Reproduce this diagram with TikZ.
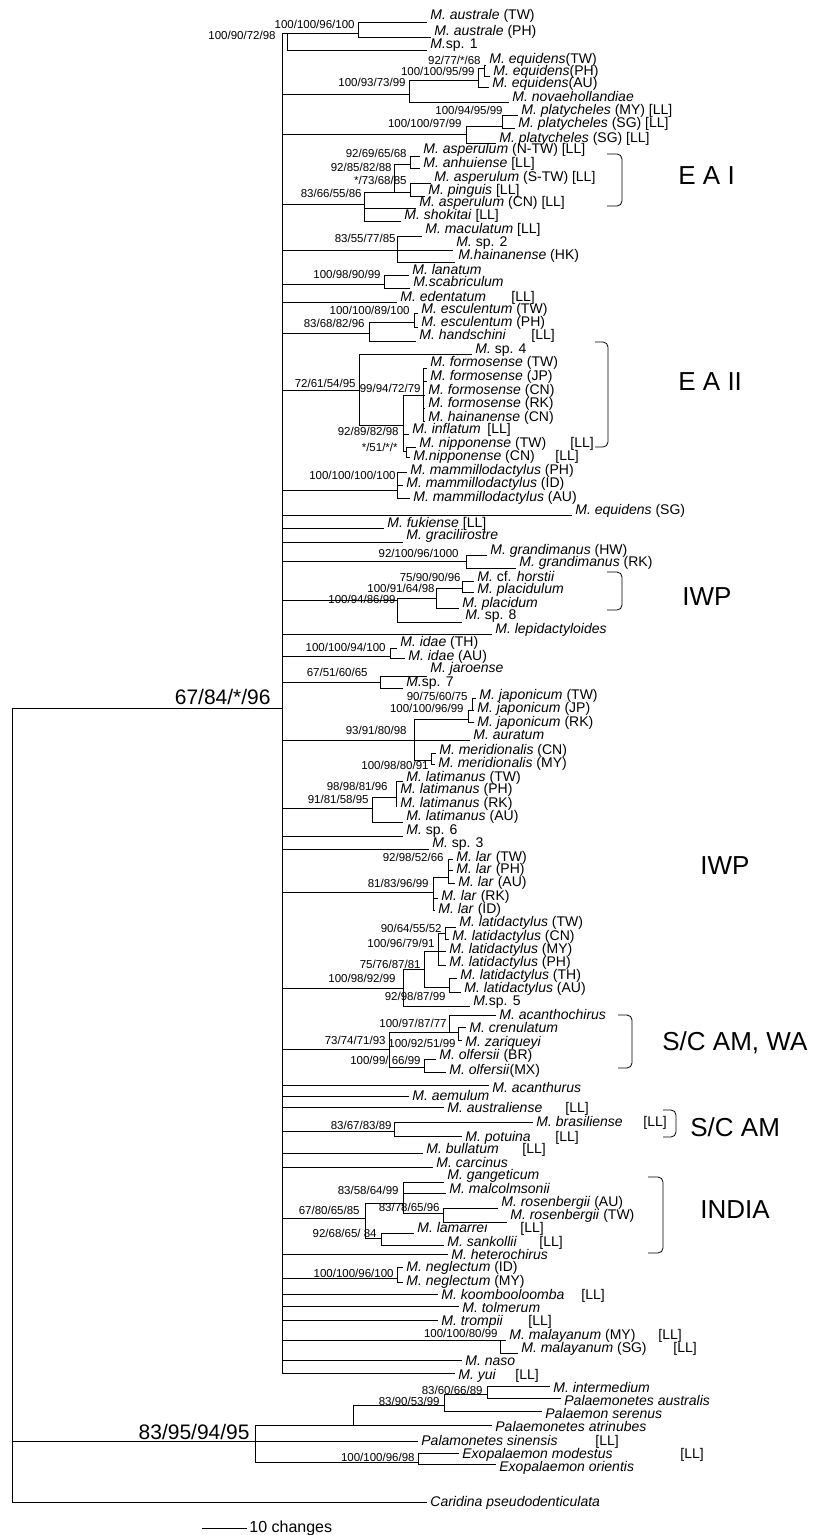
\documentclass[tikz,border=0pt]{standalone}
\usepackage{fontspec}
\setmainfont{Liberation Sans}
\newcommand{\leaffont}{\fontsize{14}{15}\selectfont}
\newcommand{\bsfont}{\fontsize{11.5}{12}\selectfont}
\newcommand{\rootfont}{\fontsize{21}{24}\selectfont}
\newcommand{\grpfont}{\fontsize{26}{28}\selectfont}
\newcommand{\barfont}{\fontsize{16}{18}\selectfont}
\newcommand{\Mi}[1]{\textit{M. #1}}
\newcommand{\wLL}[2]{\makebox[#1pt][l]{#2}[LL]}
\newcommand{\leaf}[5]{\coordinate (#1) at (#2,#3);
  \node[taxon] (#1t) at (#2,#4+4.8) {#5};}
\newcommand{\inode}[3]{\coordinate (#1) at (#2,#3);}
\newcommand{\bsv}[4]{\node[bsl] (#1) at (#2,#3) {#4};}
\tikzset{
  taxon/.style={anchor=base west,inner xsep=3pt,inner ysep=0pt,font=\leaffont},
  bsl/.style={anchor=east,inner sep=0pt,font=\bsfont},
  grp/.style={anchor=west,inner sep=0pt,font=\grpfont},
  brk/.style={rounded corners=5pt}
}
\begin{document}
\begin{tikzpicture}[x=1pt,y=-1pt,line width=0.8pt]
\useasboundingbox (0,0) rectangle (824,1535);
\leaf{ausTW}{427}{22}{15}{\Mi{australe} (TW)}
\leaf{ausPH}{431}{37}{31}{\Mi{australe} (PH)}
\leaf{spA}{427}{50}{44}{\textit{M.}sp. 1}
\leaf{eqTW}{486}{65}{59}{\Mi{equidens}(TW)}
\leaf{eqPH}{490}{76}{71}{\Mi{equidens}(PH)}
\leaf{eqAU}{489}{87}{83}{\Mi{equidens}(AU)}
\leaf{novae}{509}{102}{97}{\Mi{novaehollandiae}}
\leaf{plMY}{518}{115}{110}{\Mi{platycheles} (MY) [LL]}
\leaf{plSG}{515}{128}{123}{\Mi{platycheles} (SG) [LL]}
\leaf{plSGb}{496}{143}{138}{\Mi{platycheles} (SG) [LL]}
\leaf{asNTW}{420}{156}{149}{\Mi{asperulum} (N-TW) [LL]}
\leaf{anhui}{420}{168}{163}{\Mi{anhuiense} [LL]}
\leaf{asSTW}{431}{183}{177}{\Mi{asperulum} (S-TW) [LL]}
\leaf{pingu}{425}{196}{190}{\Mi{pinguis} [LL]}
\leaf{asCN}{416}{208}{202}{\Mi{asperulum} (CN) [LL]}
\leaf{shoki}{401}{221}{215}{\Mi{shokitai} [LL]}
\leaf{macul}{422}{236}{229}{\Mi{maculatum} [LL]}
\leaf{spB}{453}{250}{242}{\textit{M.} sp. 2}
\leaf{haiHK}{455}{262}{255}{\textit{M.hainanense} (HK)}
\leaf{lanat}{409}{275}{270}{\Mi{lanatum}}
\leaf{scabr}{410}{288}{282}{\textit{M.scabriculum}}
\leaf{edent}{397}{302}{297}{\wLL{111}{\Mi{edentatum}}}
\leaf{escTW}{418}{313}{309}{\Mi{esculentum} (TW)}
\leaf{escPH}{418}{327}{322}{\Mi{esculentum} (PH)}
\leaf{hands}{416}{341}{335}{\wLL{112}{\Mi{handschini}}}
\leaf{spC}{472}{354}{349}{\textit{M.} sp. 4}
\leaf{foTW}{427}{368}{362}{\Mi{formosense} (TW)}
\leaf{foJP}{427}{381}{376}{\Mi{formosense} (JP)}
\leaf{foCN}{425}{395}{390}{\Mi{formosense} (CN)}
\leaf{foRK}{425}{408}{403}{\Mi{formosense} (RK)}
\leaf{haiCN}{425}{421}{417}{\Mi{hainanense} (CN)}
\leaf{infla}{409}{434}{429}{\wLL{75}{\Mi{inflatum}}}
\leaf{niTW}{416}{447}{443}{\wLL{151}{\Mi{nipponense} (TW)}}
\leaf{niCN}{410}{457}{456}{\wLL{142}{\textit{M.nipponense} (CN)}}
\leaf{maPH}{407}{472}{470}{\Mi{mammillodactylus} (PH)}
\leaf{maID}{403}{485}{483}{\Mi{mammillodactylus} (ID)}
\leaf{maAU}{410}{498}{497}{\Mi{mammillodactylus} (AU)}
\leaf{eqSG}{572}{515}{510}{\Mi{equidens} (SG)}
\leaf{fukie}{384}{528}{523}{\Mi{fukiense} [LL]}
\leaf{graci}{403}{542}{535}{\Mi{gracilirostre}}
\leaf{grHW}{487}{555}{550}{\Mi{grandimanus} (HW)}
\leaf{grRK}{516}{568}{562}{\Mi{grandimanus} (RK)}
\leaf{horst}{474}{581}{577}{\textit{M.} cf. \textit{horstii}}
\leaf{plcdl}{474}{592}{589}{\Mi{placidulum}}
\leaf{plcdm}{459}{608}{603}{\Mi{placidum}}
\leaf{spD}{462}{622}{615}{\textit{M.} sp. 8}
\leaf{lepid}{492}{634}{629}{\Mi{lepidactyloides}}
\leaf{idTH}{397}{648}{642}{\Mi{idae} (TH)}
\leaf{idAU}{405}{658}{656}{\Mi{idae} (AU)}
\leaf{jaroe}{427}{676}{668}{\Mi{jaroense}}
\leaf{spE}{403}{688}{682}{\textit{M.}sp. 7}
\leaf{jaTW}{476}{698}{695}{\Mi{japonicum} (TW)}
\leaf{jaJP}{474}{710}{708}{\Mi{japonicum} (JP)}
\leaf{jaRK}{474}{722}{722}{\Mi{japonicum} (RK)}
\leaf{aurat}{470}{740}{735}{\Mi{auratum}}
\leaf{meCN}{436}{753}{750}{\Mi{meridionalis} (CN)}
\leaf{meMY}{435}{764}{763}{\Mi{meridionalis} (MY)}
\leaf{ltTW}{403}{781}{777}{\Mi{latimanus} (TW)}
\leaf{ltPH}{397}{793}{789}{\Mi{latimanus} (PH)}
\leaf{ltRK}{397}{806}{803}{\Mi{latimanus} (RK)}
\leaf{ltAU}{403}{822}{816}{\Mi{latimanus} (AU)}
\leaf{spF}{403}{836}{830}{\textit{M.} sp. 6}
\leaf{spG}{429}{849}{843}{\textit{M.} sp. 3}
\leaf{laTW}{453}{859}{857}{\Mi{lar} (TW)}
\leaf{laPH}{453}{870}{869}{\Mi{lar} (PH)}
\leaf{laAU}{455}{883}{882}{\Mi{lar} (AU)}
\leaf{laRK}{438}{898}{896}{\Mi{lar} (RK)}
\leaf{laID}{435}{910}{909}{\Mi{lar} (ID)}
\leaf{ldTW}{456}{927}{922}{\Mi{latidactylus} (TW)}
\leaf{ldCN}{449}{939}{936}{\Mi{latidactylus} (CN)}
\leaf{ldMY}{446}{951}{949}{\Mi{latidactylus} (MY)}
\leaf{ldPH}{446}{965}{962}{\Mi{latidactylus} (PH)}
\leaf{ldTH}{457}{978}{975}{\Mi{latidactylus} (TH)}
\leaf{ldAU}{461}{992}{988}{\Mi{latidactylus} (AU)}
\leaf{spH}{470}{1006}{1001}{\textit{M.}sp. 5}
\leaf{acnch}{496}{1015}{1015}{\Mi{acanthochirus}}
\leaf{crenu}{466}{1027}{1028}{\Mi{crenulatum}}
\leaf{zariq}{462}{1040}{1042}{\Mi{zariqueyi}}
\leaf{olBR}{436}{1059}{1055}{\Mi{olfersii} (BR)}
\leaf{olMX}{446}{1072}{1070}{\Mi{olfersii}(MX)}
\leaf{acnth}{489}{1085}{1088}{\Mi{acanthurus}}
\leaf{aemul}{409}{1096}{1096}{\Mi{aemulum}}
\leaf{austr}{444}{1107}{1108}{\wLL{118}{\Mi{australiense}}}
\leaf{brasi}{533}{1122}{1122}{\wLL{107}{\Mi{brasiliense}}}
\leaf{potui}{462}{1136}{1137}{\wLL{90}{\Mi{potuina}}}
\leaf{bulla}{423}{1153}{1149}{\wLL{96}{\Mi{bullatum}}}
\leaf{carci}{433}{1167}{1163}{\Mi{carcinus}}
\leaf{gange}{444}{1182}{1175}{\Mi{gangeticum}}
\leaf{malco}{446}{1193}{1189}{\Mi{malcolmsonii}}
\leaf{roAU}{498}{1208}{1202}{\Mi{rosenbergii} (AU)}
\leaf{roTW}{507}{1222}{1215}{\Mi{rosenbergii} (TW)}
\leaf{lamar}{414}{1233}{1228}{\wLL{103}{\Mi{lamarrei}}}
\leaf{sanko}{444}{1245}{1242}{\wLL{92}{\Mi{sankollii}}}
\leaf{heter}{448}{1254}{1255}{\Mi{heterochirus}}
\leaf{neID}{403}{1267}{1267}{\Mi{neglectum} (ID)}
\leaf{neMY}{403}{1282}{1281}{\Mi{neglectum} (MY)}
\leaf{koomb}{438}{1294}{1295}{\wLL{140}{\Mi{koombooloomba}}}
\leaf{tolme}{459}{1306}{1308}{\Mi{tolmerum}}
\leaf{tromp}{438}{1320}{1321}{\wLL{87}{\Mi{trompii}}}
\leaf{mlMY}{506}{1340}{1335}{\wLL{149}{\Mi{malayanum} (MY)}}
\leaf{mlSG}{518}{1353}{1348}{\wLL{152}{\Mi{malayanum} (SG)}}
\leaf{naso}{462}{1360}{1361}{\Mi{naso}}
\leaf{yui}{455}{1373}{1375}{\wLL{57}{\Mi{yui}}}
\leaf{inter}{550}{1386}{1388}{\Mi{intermedium}}
\leaf{paust}{561}{1398}{1401}{\textit{Palaemonetes australis}}
\leaf{paser}{542}{1411}{1414}{\textit{Palaemon serenus}}
\leaf{patri}{492}{1425}{1427}{\textit{Palaemonetes atrinubes}}
\leaf{pasin}{418}{1441}{1441}{\wLL{174}{\textit{Palamonetes sinensis}}}
\leaf{exmod}{459}{1453}{1454}{\wLL{218}{\textit{Exopalaemon modestus}}}
\leaf{exori}{496}{1464}{1467}{\textit{Exopalaemon orientis}}
\leaf{carid}{427}{1502}{1502}{\textit{Caridina pseudodenticulata}}
\inode{R}{12}{708}
\inode{B}{282}{708}
\inode{nA}{287}{33}
\inode{nAu}{358}{33}
\inode{nE1}{409}{94}
\inode{nE2}{478}{80}
\inode{nE3}{484}{68}
\inode{nP0}{466}{134}
\inode{nP1}{502}{126}
\inode{nS0}{364}{204}
\inode{nS1}{394}{192}
\inode{nS2}{410}{164}
\inode{nS3}{410}{192}
\inode{nMc}{397}{250}
\inode{nLn}{384}{284}
\inode{nEs0}{369}{333}
\inode{nEs1}{414}{322}
\inode{nF0}{359}{390}
\inode{nF1}{403}{425}
\inode{nF2}{423}{395}
\inode{nNi}{406}{451}
\inode{nMa}{397}{490}
\inode{nGr}{466}{561}
\inode{nI0}{397}{600}
\inode{nI1}{436}{598}
\inode{nI2}{462}{588}
\inode{nId}{390}{656}
\inode{nJr}{380}{682}
\inode{nJ0}{414}{740}
\inode{nJ1}{468}{719}
\inode{nJ2}{472}{710}
\inode{nMe}{431}{760}
\inode{nLt0}{372}{808}
\inode{nLt1}{396}{797}
\inode{nLr0}{433}{892}
\inode{nLr1}{448}{877}
\inode{nLd0}{403}{988}
\inode{nLd1}{424}{969}
\inode{nLd2}{438}{951}
\inode{nLd3}{445}{933}
\inode{nLd4}{449}{987}
\inode{nSc0}{389}{1049}
\inode{nSc1}{449}{1032}
\inode{nSc2}{458}{1032}
\inode{nSc3}{424}{1067}
\inode{nBr}{394}{1131}
\inode{nIn0}{365}{1218}
\inode{nIn1}{403}{1203}
\inode{nIn2}{443}{1213}
\inode{nIn3}{381}{1238}
\inode{nNg}{397}{1278}
\inode{nMl}{500}{1340}
\inode{nO}{255}{1441}
\inode{nOp}{353}{1425}
\inode{nOq}{444}{1405}
\inode{nOs}{487}{1394}
\inode{nEx}{418}{1462}
\draw (R) |- (B) (R) |- (nO) (R) |- (carid);
\draw (B) |- (nA) (B) |- (nE1) (B) |- (nP0) (B) |- (nS0) (B) |- (nMc) (B) |- (nLn)
  (B) |- (edent) (B) |- (nEs0) (B) |- (nF0) (B) |- (nMa) (B) |- (eqSG) (B) |- (fukie)
  (B) |- (graci) (B) |- (nGr) (B) |- (nI0) (B) |- (lepid) (B) |- (nId) (B) |- (nJr)
  (B) |- (nJ0) (B) |- (nLt0) (B) |- (spF) (B) |- (spG) (B) |- (nLr0) (B) |- (nLd0)
  (B) |- (nSc0) (B) |- (acnth) (B) |- (aemul) (B) |- (austr) (B) |- (nBr) (B) |- (bulla)
  (B) |- (carci) (B) |- (nIn0) (B) |- (heter) (B) |- (nNg) (B) |- (koomb) (B) |- (tolme)
  (B) |- (tromp) (B) |- (nMl) (B) |- (naso) (B) |- (yui);
\draw (nA) |- (nAu) (nA) |- (spA);
\draw (nAu) |- (ausTW) (nAu) |- (ausPH);
\draw (nE1) |- (nE2) (nE1) |- (novae);
\draw (nE2) |- (nE3) (nE2) |- (eqAU);
\draw (nE3) |- (eqTW) (nE3) |- (eqPH);
\draw (nP0) |- (nP1) (nP0) |- (plSGb);
\draw (nP1) |- (plMY) (nP1) |- (plSG);
\draw (nS0) |- (nS1) (nS0) |- (asCN) (nS0) |- (shoki);
\draw (nS1) |- (nS2) (nS1) |- (nS3);
\draw (nS2) |- (asNTW) (nS2) |- (anhui);
\draw (nS3) |- (asSTW) (nS3) |- (pingu);
\draw (nMc) |- (macul) (nMc) |- (spB) (nMc) |- (haiHK);
\draw (nLn) |- (lanat) (nLn) |- (scabr);
\draw (nEs0) |- (nEs1) (nEs0) |- (hands);
\draw (nEs1) |- (escTW) (nEs1) |- (escPH);
\draw (nF0) |- (spC) (nF0) |- (nF1);
\draw (nF1) |- (nF2) (nF1) |- (infla) (nF1) |- (nNi);
\draw (nF2) |- (foTW) (nF2) |- (foJP) (nF2) |- (foCN) (nF2) |- (foRK) (nF2) |- (haiCN);
\draw (nNi) |- (niTW) (nNi) |- (niCN);
\draw (nMa) |- (maPH) (nMa) |- (maID) (nMa) |- (maAU);
\draw (nGr) |- (grHW) (nGr) |- (grRK);
\draw (nI0) |- (nI1) (nI0) |- (spD);
\draw (nI1) |- (nI2) (nI1) |- (plcdm);
\draw (nI2) |- (horst) (nI2) |- (plcdl);
\draw (nId) |- (idTH) (nId) |- (idAU);
\draw (nJr) |- (jaroe) (nJr) |- (spE);
\draw (nJ0) |- (nJ1) (nJ0) |- (aurat) (nJ0) |- (nMe);
\draw (nJ1) |- (nJ2) (nJ1) |- (jaRK);
\draw (nJ2) |- (jaTW) (nJ2) |- (jaJP);
\draw (nMe) |- (meCN) (nMe) |- (meMY);
\draw (nLt0) |- (nLt1) (nLt0) |- (ltAU);
\draw (nLt1) |- (ltTW) (nLt1) |- (ltPH) (nLt1) |- (ltRK);
\draw (nLr0) |- (nLr1) (nLr0) |- (laRK) (nLr0) |- (laID);
\draw (nLr1) |- (laTW) (nLr1) |- (laPH) (nLr1) |- (laAU);
\draw (nLd0) |- (nLd1) (nLd0) |- (spH);
\draw (nLd1) |- (nLd2) (nLd1) |- (nLd4);
\draw (nLd2) |- (nLd3) (nLd2) |- (ldMY) (nLd2) |- (ldPH);
\draw (nLd3) |- (ldTW) (nLd3) |- (ldCN);
\draw (nLd4) |- (ldTH) (nLd4) |- (ldAU);
\draw (nSc0) |- (nSc1) (nSc0) |- (nSc3);
\draw (nSc1) |- (acnch) (nSc1) |- (nSc2);
\draw (nSc2) |- (crenu) (nSc2) |- (zariq);
\draw (nSc3) |- (olBR) (nSc3) |- (olMX);
\draw (nBr) |- (brasi) (nBr) |- (potui);
\draw (nIn0) |- (nIn1) (nIn0) |- (nIn3);
\draw (nIn1) |- (gange) (nIn1) |- (malco) (nIn1) |- (nIn2);
\draw (nIn2) |- (roAU) (nIn2) |- (roTW);
\draw (nIn3) |- (lamar) (nIn3) |- (sanko);
\draw (nNg) |- (neID) (nNg) |- (neMY);
\draw (nMl) |- (mlMY) (nMl) |- (mlSG);
\draw (nO) |- (nOp) (nO) |- (pasin) (nO) |- (nEx);
\draw (nOp) |- (nOq) (nOp) |- (patri);
\draw (nOq) |- (nOs) (nOq) |- (paser);
\draw (nOs) |- (inter) (nOs) |- (paust);
\draw (nEx) |- (exmod) (nEx) |- (exori);
\bsv{b1}{276}{35}{100/90/72/98}
\bsv{b2}{355}{24}{100/100/96/100}
\bsv{b3}{481}{60}{92/77/*/68}
\bsv{b4}{475}{71}{100/100/95/99}
\bsv{b5}{406}{82}{100/93/73/99}
\bsv{b6}{503}{110}{100/94/95/99}
\bsv{b7}{462}{123}{100/100/97/99}
\bsv{b8}{407}{153}{92/69/65/68}
\bsv{b9}{392}{167}{92/85/82/88}
\bsv{b10}{407}{180}{*/73/68/85}
\bsv{b11}{362}{193}{83/66/55/86}
\bsv{b12}{396}{238}{83/55/77/85}
\bsv{b13}{381}{274}{100/98/90/99}
\bsv{b14}{410}{310}{100/100/89/100}
\bsv{b15}{365}{323}{83/68/82/96}
\bsv{b16}{356}{383}{72/61/54/95}
\bsv{b17}{421}{388}{99/94/72/79}
\bsv{b18}{399}{431}{92/89/82/98}
\bsv{b19}{398}{447}{*/51/*/*}
\bsv{b20}{396}{475}{100/100/100/100}
\bsv{b21}{459}{553}{92/100/96/1000}
\bsv{b22}{461}{577}{75/90/90/96}
\bsv{b23}{435}{588}{100/91/64/98}
\bsv{b24}{396}{599}{100/94/86/99}
\bsv{b25}{386}{647}{100/100/94/100}
\bsv{b26}{368}{672}{67/51/60/65}
\bsv{b27}{468}{696}{90/75/60/75}
\bsv{b28}{464}{708}{100/100/96/99}
\bsv{b29}{407}{730}{93/91/80/98}
\bsv{b30}{429}{765}{100/98/80/91}
\bsv{b31}{388}{786}{98/98/81/96}
\bsv{b32}{369}{799}{91/81/58/95}
\bsv{b33}{444}{857}{92/98/52/66}
\bsv{b34}{429}{883}{81/83/96/99}
\bsv{b35}{442}{928}{90/64/55/52}
\bsv{b36}{435}{943}{100/96/79/91}
\bsv{b37}{421}{964}{75/76/87/81}
\bsv{b38}{396}{978}{100/98/92/99}
\bsv{b39}{446}{996}{92/98/87/99}
\bsv{b40}{447}{1023}{100/97/87/77}
\bsv{b41}{386}{1040}{73/74/71/93}
\bsv{b42}{456}{1043}{100/92/51/99}
\bsv{b43}{421}{1060}{100/99/ 66/99}
\bsv{b44}{392}{1125}{83/67/83/89}
\bsv{b45}{399}{1190}{83/58/64/99}
\bsv{b46}{360}{1210}{67/80/65/85}
\bsv{b47}{440}{1207}{83/78/65/96}
\bsv{b48}{377}{1233}{92/68/65/ 84}
\bsv{b49}{394}{1273}{100/100/96/100}
\bsv{b50}{498}{1333}{100/100/80/99}
\bsv{b51}{483}{1390}{83/60/66/89}
\bsv{b52}{440}{1401}{83/90/53/99}
\bsv{b53}{415}{1457}{100/100/96/98}
\node[bsl,font=\rootfont] (bIn) at (271,697) {67/84/*/96};
\node[bsl,font=\rootfont] (bOut) at (250,1432) {83/95/94/95};
\draw[brk] (607,154) -- (622,154) -- (622,206) -- (607,206);
\draw[brk] (595,342) -- (608,342) -- (608,447) -- (595,447);
\draw[brk] (607,572) -- (622,572) -- (622,610) -- (607,610);
\draw[brk] (618,1015) -- (632,1015) -- (632,1068) -- (618,1068);
\draw[brk] (663,1110) -- (676,1110) -- (676,1137) -- (663,1137);
\draw[brk] (648,1177) -- (663,1177) -- (663,1253) -- (648,1253);
\node[grp] (gEA1) at (678,176) {E A I};
\node[grp] (gEA2) at (678,382) {E A II};
\node[grp] (gIWP1) at (682,597) {IWP};
\node[grp] (gIWP2) at (700,866) {IWP};
\node[grp] (gSCW) at (662,1043) {S/C AM, WA};
\node[grp] (gSC) at (690,1127) {S/C AM};
\node[grp] (gIND) at (700,1210) {INDIA};
\coordinate (s0) at (202,1528);
\coordinate (s1) at (247,1528);
\draw (s0) -- (s1) node[anchor=west,inner sep=2pt,font=\barfont] (sbar) {10 changes};
\end{tikzpicture}
\end{document}
